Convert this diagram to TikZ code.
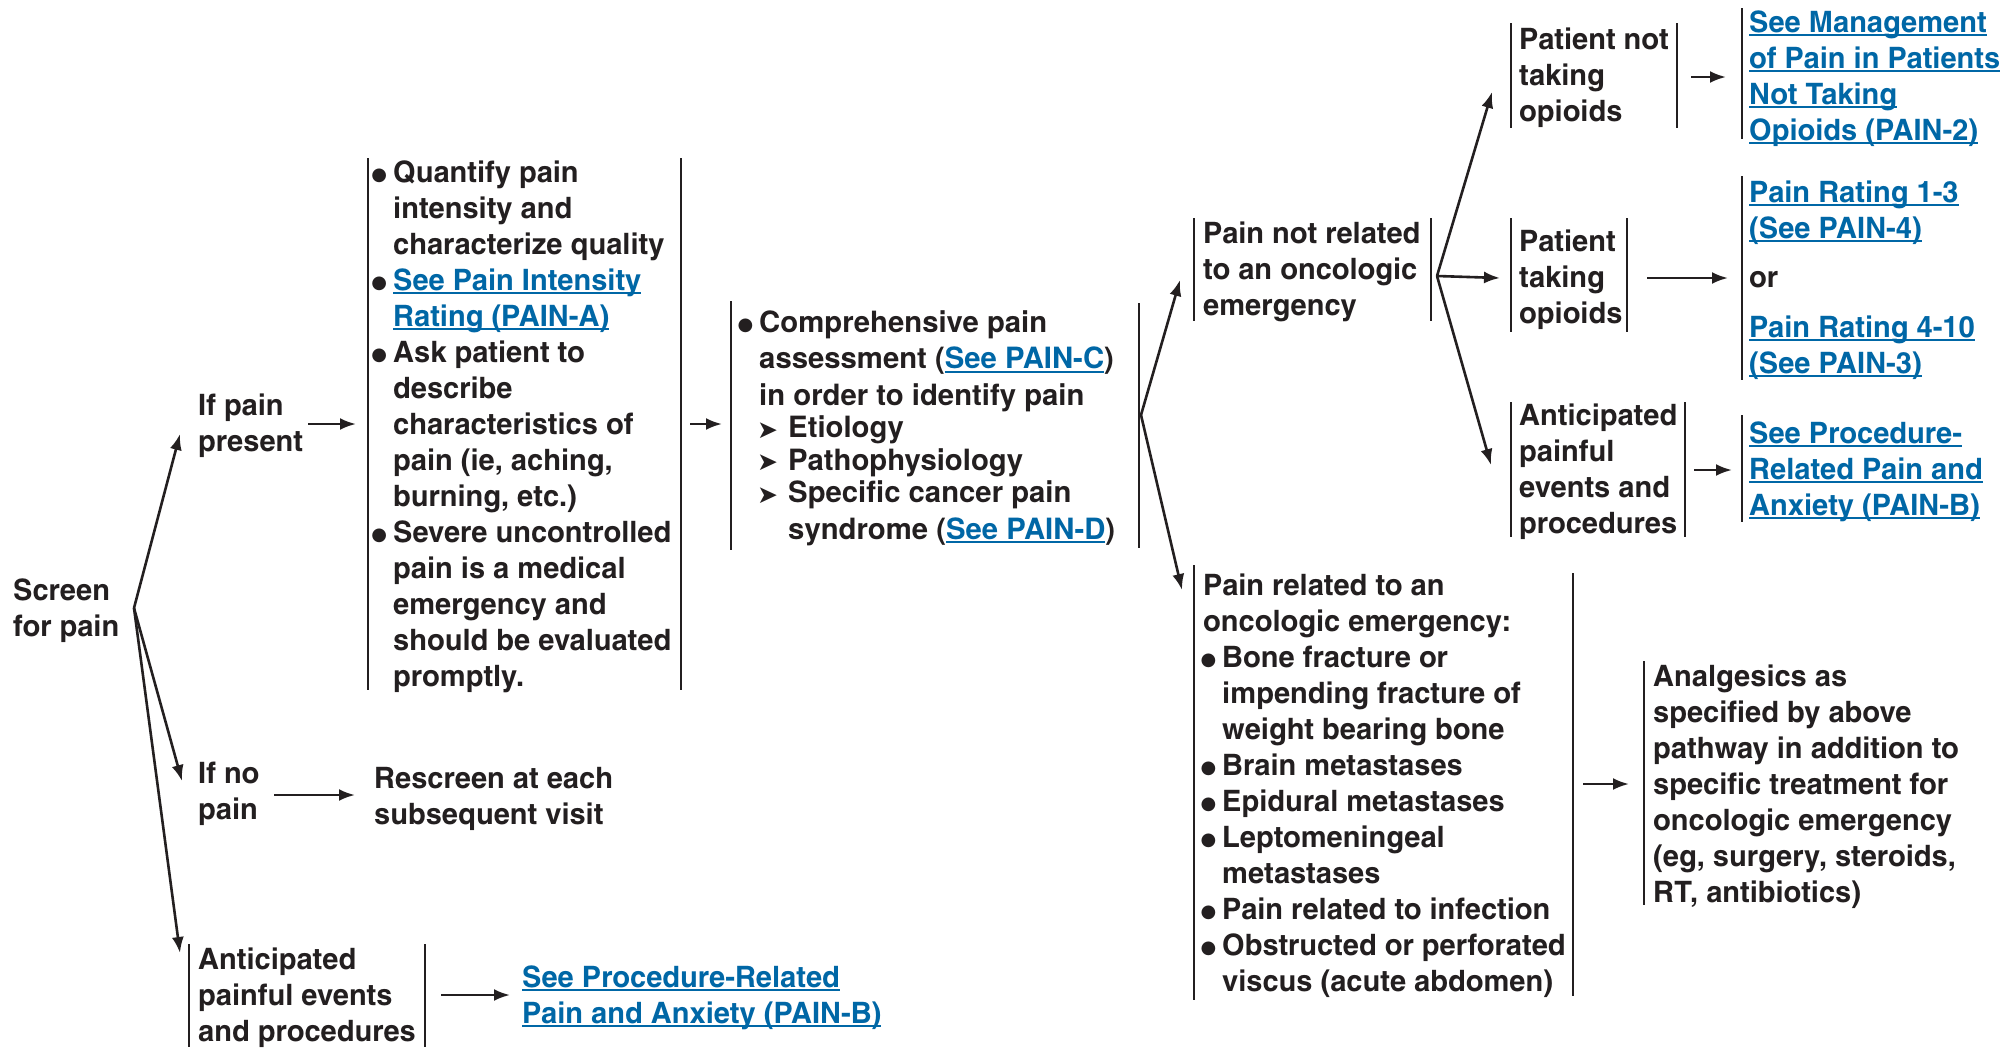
\documentclass[tikz,border=0pt]{standalone}
\usepackage{fontspec}
\usetikzlibrary{arrows.meta}
\setmainfont{TeX Gyre Heros}
\newfontfamily\cnfont{texgyreheroscn-bold.otf}[FakeStretch=1.2]
\newfontfamily\hvfont{texgyreheros-bold.otf}
\newfontfamily\djfont{DejaVu Sans}
\definecolor{ink}{HTML}{231F20}
\definecolor{lblue}{HTML}{0067A6}
\newcommand\lk[1]{\leavevmode{\color{lblue}\setbox0\hbox{#1}\rlap{\rule[-4pt]{\wd0}{1.8pt}}\box0}}
\newcommand\bdot{\raisebox{1.2pt}{\djfont\fontsize{18}{18}\selectfont ●}}
\newcommand\bul{\leavevmode\llap{\bdot\hspace{6pt}}}
\newcommand\bii{\leavevmode\makebox[19pt][r]{\bdot\hspace{6pt}}}
\newcommand\cii{\leavevmode\hspace*{19pt}}
\newcommand\subb{\leavevmode\makebox[29pt][l]{\hspace*{-2pt}\raisebox{-0.5pt}{\djfont\fontsize{25}{25}\selectfont ➤}}}
\begin{document}
\begin{tikzpicture}[x=1pt,y=-1pt,
  txt/.style={inner sep=0pt, anchor=base west, align=left,
    font=\cnfont\fontsize{29.5}{36}\selectfont, text=ink},
  txtw/.style={txt, font=\hvfont\fontsize{29.3}{36.5}\selectfont},
  bar/.style={line width=2pt, draw=ink},
  arr/.style={line width=2.6pt, draw=ink, -{Latex[length=16pt,width=12pt]}}]
\useasboundingbox[fill=white] (0,0) rectangle (2015,1047);

% text nodes (anchored at the baseline of their last line)
\node[txt] (screen) at (13,636) {Screen\\for pain};
\node[txt] (ifpain) at (198,451) {If pain\\present};
\node[txt] (quant) at (393,686) {\bul Quantify pain\\intensity and\\characterize quality\\\bul\lk{See Pain Intensity}\\\lk{Rating (PAIN-A)}\\\bul Ask patient to\\describe\\characteristics of\\pain (ie, aching,\\burning, etc.)\\\bul Severe uncontrolled\\pain is a medical\\emergency and\\should be evaluated\\promptly.};
\node[txtw] (comp) at (759,539) {\bul Comprehensive pain\\assessment (\lk{See PAIN-C})\\in order to identify pain\\[-4pt]\subb Etiology\\[-4pt]\subb Pathophysiology\\[-4pt]\subb Specific cancer pain\\\hspace*{29pt}syndrome (\lk{See PAIN-D})};
\node[txt] (notrel) at (1203,315) {Pain not related\\to an oncologic\\emergency};
\node[txt] (notop) at (1519,121) {Patient not\\taking\\opioids};
\node[txt] (link1) at (1749,140) {\lk{See Management}\\\lk{of Pain in Patients}\\\lk{Not Taking}\\\lk{Opioids (PAIN-2)}};
\node[txt] (takop) at (1519,323) {Patient\\taking\\opioids};
\node[txt] (link2) at (1749,373) {\lk{Pain Rating 1-3}\\\lk{(See PAIN-4)}\\[13pt]or\\[14pt]\lk{Pain Rating 4-10}\\\lk{(See PAIN-3)}};
\node[txt] (antr) at (1519,533) {Anticipated\\painful\\events and\\procedures};
\node[txt] (link3) at (1749,515) {\lk{See Procedure-}\\\lk{Related Pain and}\\\lk{Anxiety (PAIN-B)}};
\node[txt] (rel) at (1203,991) {Pain related to an\\oncologic emergency:\\\bii Bone fracture or\\\cii impending fracture of\\\cii weight bearing bone\\\bii Brain metastases\\\bii Epidural metastases\\\bii Leptomeningeal\\\cii metastases\\\bii Pain related to infection\\\bii Obstructed or perforated\\\cii viscus (acute abdomen)};
\node[txt] (final) at (1653,902) {Analgesics as\\specified by above\\pathway in addition to\\specific treatment for\\oncologic emergency\\(eg, surgery, steroids,\\RT, antibiotics)};
\node[txt] (nopain) at (198,819) {If no\\pain};
\node[txt] (rescreen) at (374,824) {Rescreen at each\\subsequent visit};
\node[txt] (antb) at (198,1041) {Anticipated\\painful events\\and procedures};
\node[txt] (linkb) at (522,1023) {\lk{See Procedure-Related}\\\lk{Pain and Anxiety (PAIN-B)}};

% bars
\draw[bar] (368,158) -- (368,690);
\draw[bar] (681,158) -- (681,690);
\draw[bar] (731,301) -- (731,550);
\draw[bar] (1139,303) -- (1139,548);
\draw[bar] (1194,218) -- (1194,321);
\draw[bar] (1431,218) -- (1431,321);
\draw[bar] (1511,23) -- (1511,128);
\draw[bar] (1677,23) -- (1677,128);
\draw[bar] (1742,8) -- (1742,139);
\draw[bar] (1511,218) -- (1511,332);
\draw[bar] (1627,218) -- (1627,332);
\draw[bar] (1742,176) -- (1742,380);
\draw[bar] (1511,402) -- (1511,537);
\draw[bar] (1685,402) -- (1685,537);
\draw[bar] (1742,415) -- (1742,522);
\draw[bar] (1194,565) -- (1194,1000);
\draw[bar] (1573,573) -- (1573,996);
\draw[bar] (1644,661) -- (1644,905);
\draw[bar] (189,944) -- (189,1047);
\draw[bar] (425,944) -- (425,1047);

% connector coordinates
\coordinate (sp0) at (134,608);
\coordinate (tPain) at (180,434);
\coordinate (tNo) at (182,781);
\coordinate (tAntB) at (180,953);
\coordinate (a1s) at (308,424); \coordinate (a1e) at (356,424);
\coordinate (a2s) at (690,424); \coordinate (a2e) at (722,424);
\coordinate (sp1) at (1141,415);
\coordinate (tNotRel) at (1180,280);
\coordinate (tRel) at (1182,590);
\coordinate (sp2) at (1437,276);
\coordinate (tNotOp) at (1492,92);
\coordinate (tTakOp) at (1500,278);
\coordinate (tAntR) at (1491,465);
\coordinate (a3s) at (1691,77); \coordinate (a3e) at (1726,77);
\coordinate (a4s) at (1647,278); \coordinate (a4e) at (1728,278);
\coordinate (a5s) at (1694,470); \coordinate (a5e) at (1732,470);
\coordinate (a6s) at (1583,784); \coordinate (a6e) at (1629,784);
\coordinate (a7s) at (274,795); \coordinate (a7e) at (355,795);
\coordinate (a8s) at (441,995); \coordinate (a8e) at (510,995);

\draw[arr] (sp0) -- (tPain);
\draw[arr] (sp0) -- (tNo);
\draw[arr] (sp0) -- (tAntB);
\draw[arr] (a1s) -- (a1e);
\draw[arr] (a2s) -- (a2e);
\draw[arr] (sp1) -- (tNotRel);
\draw[arr] (sp1) -- (tRel);
\draw[arr] (sp2) -- (tNotOp);
\draw[arr] (sp2) -- (tTakOp);
\draw[arr] (sp2) -- (tAntR);
\draw[arr] (a3s) -- (a3e);
\draw[arr] (a4s) -- (a4e);
\draw[arr] (a5s) -- (a5e);
\draw[arr] (a6s) -- (a6e);
\draw[arr] (a7s) -- (a7e);
\draw[arr] (a8s) -- (a8e);
\end{tikzpicture}
\end{document}
